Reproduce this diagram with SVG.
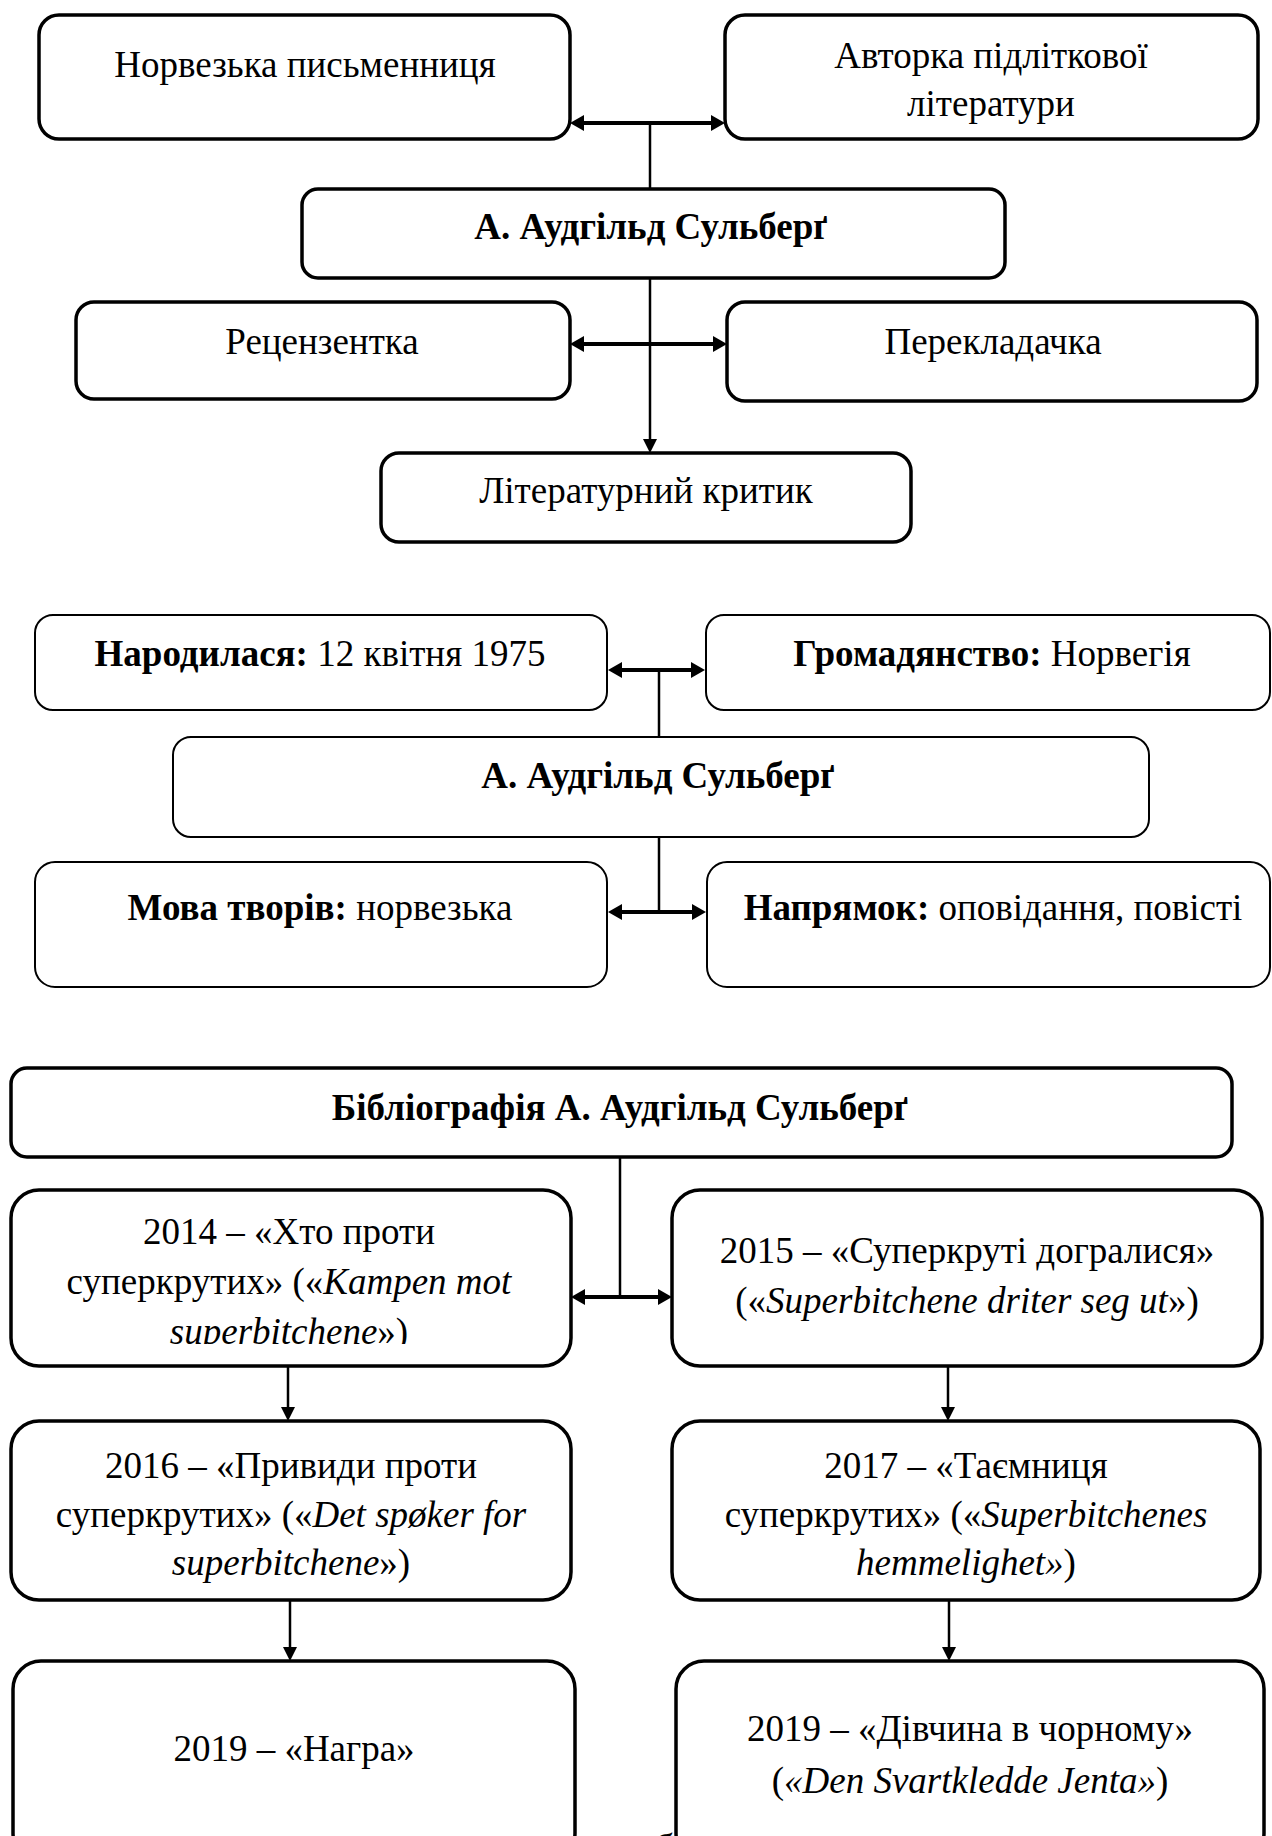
<svg xmlns="http://www.w3.org/2000/svg" width="1272" height="1836" viewBox="0 0 1272 1836">
<defs>
<marker id="ah" viewBox="0 0 14 16" refX="10" refY="8" markerWidth="14" markerHeight="16" markerUnits="userSpaceOnUse" orient="auto-start-reverse"><path d="M0,0 L14,8 L0,16 z" fill="#000"/></marker>
<marker id="as" viewBox="0 0 14 14" refX="10" refY="7" markerWidth="14" markerHeight="14" markerUnits="userSpaceOnUse" orient="auto"><path d="M0,0 L14,7 L0,14 z" fill="#000"/></marker>
<clipPath id="clipM"><rect x="11" y="1190" width="560" height="154"/></clipPath>
</defs>
<style>
.b1{fill:#fff;stroke:#000;stroke-width:3.5}
.b2{fill:#fff;stroke:#000;stroke-width:2}
text{font-family:"Liberation Serif","Times New Roman",serif;font-size:37px;fill:#000;text-anchor:middle}
.bd{font-weight:bold}
.i{font-style:italic}
.ln{stroke:#000;stroke-width:2.5;fill:none}
.dbl{stroke:#000;stroke-width:4;fill:none}
</style>
<rect width="1272" height="1836" fill="#fff"/>

<g id="connectors">
<path class="dbl" d="M574,123 L721,123" marker-start="url(#ah)" marker-end="url(#ah)"/>
<path class="ln" d="M650,123 L650,189"/>
<path class="ln" d="M650,279 L650,449" marker-end="url(#as)"/>
<path class="dbl" d="M574,344 L723,344" marker-start="url(#ah)" marker-end="url(#ah)"/>

<path class="dbl" d="M612,670 L701,670" marker-start="url(#ah)" marker-end="url(#ah)"/>
<path class="ln" d="M659,670 L659,737"/>
<path class="ln" d="M659,837 L659,912"/>
<path class="dbl" d="M612,912 L702,912" marker-start="url(#ah)" marker-end="url(#ah)"/>

<path class="ln" d="M620,1157 L620,1297"/>
<path class="dbl" d="M575,1297 L668,1297" marker-start="url(#ah)" marker-end="url(#ah)"/>
<path class="ln" d="M288,1366 L288,1417" marker-end="url(#as)"/>
<path class="ln" d="M948,1366 L948,1417" marker-end="url(#as)"/>
<path class="ln" d="M290,1600 L290,1657" marker-end="url(#as)"/>
<path class="ln" d="M949,1600 L949,1657" marker-end="url(#as)"/>
</g>

<g id="n-norw"><rect class="b1" x="39" y="15" width="531" height="124" rx="20"/><text x="305" y="77">Норвезька письменниця</text></g>
<g id="n-avt"><rect class="b1" x="725" y="15" width="533" height="124" rx="20"/><text x="991" y="68">Авторка підліткової</text><text x="991" y="116">літератури</text></g>
<g id="n-main1"><rect class="b1" x="302" y="189" width="703" height="89" rx="16"/><text class="bd" x="651" y="239">А. Аудгільд Сульберґ</text></g>
<g id="n-rec"><rect class="b1" x="76" y="302" width="494" height="97" rx="18"/><text x="322" y="354">Рецензентка</text></g>
<g id="n-per"><rect class="b1" x="727" y="302" width="530" height="99" rx="18"/><text x="993" y="354">Перекладачка</text></g>
<g id="n-krit"><rect class="b1" x="381" y="453" width="530" height="89" rx="18"/><text x="646" y="503">Літературний критик</text></g>

<g id="n-born"><rect class="b2" x="35" y="615" width="572" height="95" rx="18"/><text x="320" y="666"><tspan class="bd">Народилася:</tspan> 12 квітня 1975</text></g>
<g id="n-citz"><rect class="b2" x="706" y="615" width="564" height="95" rx="18"/><text x="992" y="666"><tspan class="bd">Громадянство:</tspan> Норвегія</text></g>
<g id="n-main2"><rect class="b2" x="173" y="737" width="976" height="100" rx="18"/><text class="bd" x="658" y="788">А. Аудгільд Сульберґ</text></g>
<g id="n-lang"><rect class="b2" x="35" y="862" width="572" height="125" rx="20"/><text x="320" y="920"><tspan class="bd">Мова творів:</tspan> норвезька</text></g>
<g id="n-dir"><rect class="b2" x="707" y="862" width="563" height="125" rx="20"/><text x="993" y="920"><tspan class="bd">Напрямок:</tspan> оповідання, повісті</text></g>

<g id="n-bib"><rect class="b1" x="11" y="1068" width="1221" height="89" rx="16"/><text class="bd" x="620" y="1120">Бібліографія А. Аудгільд Сульберґ</text></g>
<g id="n-2014"><rect class="b1" x="11" y="1190" width="560" height="176" rx="28"/><text x="289" y="1244">2014 – «Хто проти</text><text x="289" y="1294">суперкрутих» («<tspan class="i">Kampen mot</tspan></text><text x="289" y="1344" clip-path="url(#clipM)"><tspan class="i">superbitchene</tspan>»)</text></g>
<g id="n-2015"><rect class="b1" x="672" y="1190" width="590" height="176" rx="28"/><text x="967" y="1263">2015 – «Суперкруті догралися»</text><text x="967" y="1313">(«<tspan class="i">Superbitchene driter seg ut</tspan>»)</text></g>
<g id="n-2016"><rect class="b1" x="11" y="1421" width="560" height="179" rx="28"/><text x="291" y="1478">2016 – «Привиди проти</text><text x="291" y="1527">суперкрутих» («<tspan class="i">Det spøker for</tspan></text><text x="291" y="1575"><tspan class="i">superbitchene</tspan>»)</text></g>
<g id="n-2017"><rect class="b1" x="672" y="1421" width="588" height="179" rx="28"/><text x="966" y="1478">2017 – «Таємниця</text><text x="966" y="1527">суперкрутих» («<tspan class="i">Superbitchenes</tspan></text><text x="966" y="1575"><tspan class="i">hemmelighet»</tspan>)</text></g>
<g id="n-2019a"><rect class="b1" x="13" y="1661" width="562" height="200" rx="28"/><text x="294" y="1761">2019 – «Награ»</text></g>
<g id="n-2019b"><rect class="b1" x="676" y="1661" width="588" height="200" rx="28"/><text x="970" y="1741">2019 – «Дівчина в чорному»</text><text x="970" y="1793">(<tspan class="i">«Den Svartkledde Jenta»</tspan>)</text></g>
<text class="i" x="662" y="1860">б</text>
</svg>
